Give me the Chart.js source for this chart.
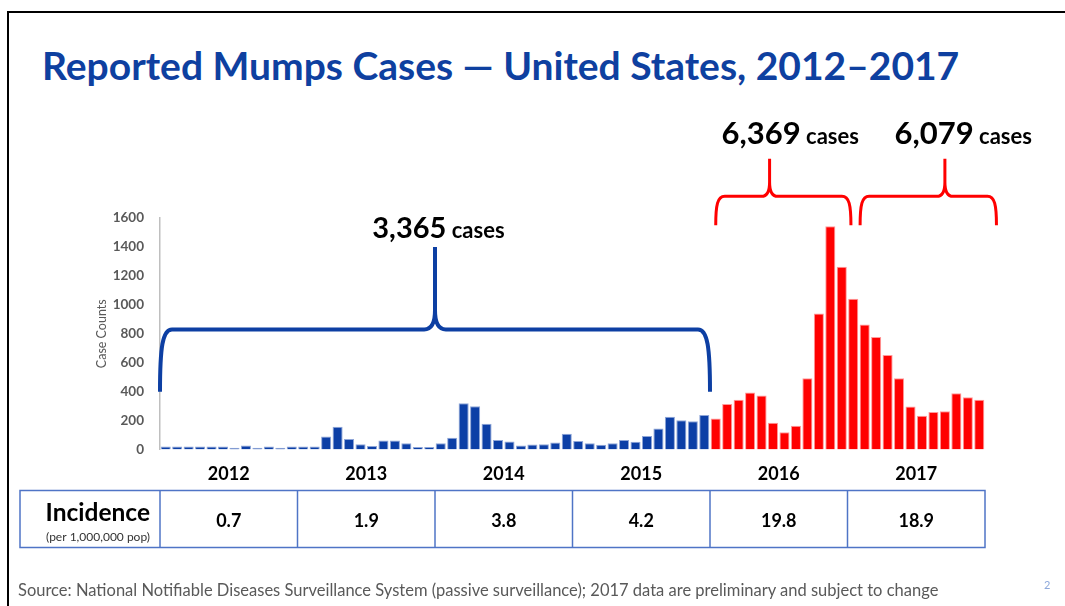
<!DOCTYPE html>
<html>
<head>
<meta charset="utf-8">
<script src="https://cdn.jsdelivr.net/npm/chart.js@4.4.0/dist/chart.umd.min.js"></script>
<style>
    body { margin: 0; background: #fff; }
    #slide { position: relative; width: 1065px; height: 606px; overflow: hidden; font-family: Lato, "Open Sans", sans-serif; }
    #marco { position: absolute; left: 7px; top: 11px; width: 1100px; height: 700px; border: 2px solid #000; }
    #titulo { position: absolute; left: 42px; top: 42px; font-size: 39px; font-weight: bold; color: #0E40A0; white-space: nowrap; }
    #fuente { position: absolute; left: 18px; top: 580px; font-size: 16.5px; color: #595959; white-space: nowrap; }
    #pagina { position: absolute; left: 1044px; top: 578px; font-size: 11px; color: #8EA9DB; }
    canvas { position: absolute; left: 0; top: 0; }
</style>
</head>
<body>
<div id="slide">
    <div id="marco"></div>
    <div id="titulo">Reported Mumps Cases — United States, 2012–2017</div>
    <canvas id="graficoPaperas" width="1065" height="606"></canvas>
    <div id="fuente">Source: National Notifiable Diseases Surveillance System (passive surveillance); 2017 data are preliminary and subject to change</div>
    <div id="pagina">2</div>
</div>
<script>
// datos (casos por mes)
const anios = ["2012", "2013", "2014", "2015", "2016", "2017"];
const casos2012 = [20, 20, 20, 20, 20, 20, 12, 28, 12, 20, 12, 20];
const casos2013 = [20, 20, 90, 157, 72, 37, 25, 62, 62, 44, 18, 18];
const casos2014 = [44, 81, 320, 299, 178, 65, 55, 28, 35, 37, 49, 109];
const casos2015 = [58, 44, 32, 44, 65, 53, 93, 146, 227, 202, 195, 239];
const casos2016 = [215, 315, 343, 394, 373, 185, 120, 165, 493, 940, 1543, 1263];
const casos2017 = [1042, 864, 778, 653, 493, 297, 234, 259, 264, 389, 361, 343];
const incidencia = ["0.7", "1.9", "3.8", "4.2", "19.8", "18.9"];
const totales = ["3,365", "6,369", "6,079"];
const ticksY = [0, 200, 400, 600, 800, 1000, 1200, 1400, 1600];

const AZUL = "#0C3FA6";
const ROJO = "#FF0000";

const meses = [];
anios.forEach(a => { for (let m = 1; m <= 12; m++) meses.push(a + "-" + m); });
const casos = [].concat(casos2012, casos2013, casos2014, casos2015, casos2016, casos2017);

// llaves (en unidades de barra y de casos)
const llaves = [
    { desde: -0.5, hasta: 47.5, pico: 23.5, base: 400, nivel: 830, punta: 1400, color: "#0D3FA3", grosor: 4, esquina: 12, total: 0, etqX: 23.8, etqY: 1464, tamNum: 29, tamTxt: 22 },
    { desde: 48.0, hasta: 59.8, pico: 52.7, base: 1550, nivel: 1750, punta: 2010, color: ROJO, grosor: 3, esquina: 9, total: 1, etqX: 54.5, etqY: 2108, tamNum: 31, tamTxt: 22 },
    { desde: 60.6, hasta: 72.5, pico: 68.0, base: 1550, nivel: 1750, punta: 2010, color: ROJO, grosor: 3, esquina: 9, total: 2, etqX: 69.6, etqY: 2108, tamNum: 31, tamTxt: 22 }
];

const anotaciones = {
    id: "anotaciones",
    afterDraw(chart) {
        const ctx = chart.ctx;
        const x = chart.scales.x;
        const y = chart.scales.y;
        const area = chart.chartArea;

        llaves.forEach(ll => {
            const xi = x.getPixelForValue(ll.desde);
            const xf = x.getPixelForValue(ll.hasta);
            const xp = x.getPixelForValue(ll.pico);
            const yb = y.getPixelForValue(ll.base);
            const yh = y.getPixelForValue(ll.nivel);
            const yp = y.getPixelForValue(ll.punta);
            const r = ll.esquina;
            ctx.save();
            ctx.strokeStyle = ll.color;
            ctx.lineWidth = ll.grosor;
            ctx.lineJoin = "round";
            ctx.beginPath();
            ctx.moveTo(xi, yb);
            ctx.bezierCurveTo(xi, yh + (yb - yh) * 0.3, xi + r * 0.2, yh, xi + r, yh);
            ctx.lineTo(xp - r * 0.9, yh);
            ctx.quadraticCurveTo(xp, yh, xp, yh - r * 1.6);
            ctx.lineTo(xp, yp);
            ctx.moveTo(xp, yh - r * 1.6);
            ctx.quadraticCurveTo(xp, yh, xp + r * 0.9, yh);
            ctx.lineTo(xf - r, yh);
            ctx.bezierCurveTo(xf - r * 0.2, yh, xf, yh + (yb - yh) * 0.3, xf, yb);
            ctx.stroke();

            // texto "N cases"
            const cx = x.getPixelForValue(ll.etqX);
            const by = y.getPixelForValue(ll.etqY);
            ctx.fillStyle = "#000";
            ctx.textBaseline = "alphabetic";
            ctx.textAlign = "left";
            ctx.font = "bold " + ll.tamNum + "px Lato";
            const num = totales[ll.total];
            const wNum = ctx.measureText(num).width;
            ctx.font = "bold " + ll.tamTxt + "px Lato";
            const wTxt = ctx.measureText(" cases").width;
            const x0 = cx - (wNum + wTxt) / 2;
            ctx.font = "bold " + ll.tamNum + "px Lato";
            ctx.fillText(num, x0, by);
            ctx.font = "bold " + ll.tamTxt + "px Lato";
            ctx.fillText(" cases", x0 + wNum, by);
            ctx.restore();
        });

        // tabla de incidencia
        const arriba = area.bottom + 41;
        const abajo = area.bottom + 98;
        const medio = (arriba + abajo) / 2;
        const cols = [20];
        for (let i = 0; i <= anios.length; i++) cols.push(x.getPixelForValue(12 * i - 0.5));
        ctx.save();
        ctx.strokeStyle = "#4F74C6";
        ctx.lineWidth = 1.5;
        ctx.strokeRect(cols[0], arriba, cols[cols.length - 1] - cols[0], abajo - arriba);
        for (let i = 1; i < cols.length - 1; i++) {
            ctx.beginPath();
            ctx.moveTo(cols[i], arriba);
            ctx.lineTo(cols[i], abajo);
            ctx.stroke();
        }
        ctx.fillStyle = "#000";
        ctx.textAlign = "right";
        ctx.textBaseline = "middle";
        ctx.font = "bold 24.5px Lato";
        ctx.fillText("Incidence", cols[1] - 10, medio - 6);
        ctx.font = "12px Lato";
        ctx.fillStyle = "#333";
        ctx.fillText("(per 1,000,000 pop)", cols[1] - 10, medio + 18);
        ctx.textAlign = "center";
        ctx.fillStyle = "#000";
        ctx.font = "bold 18px Lato";
        incidencia.forEach((v, i) => {
            ctx.fillText(v, (cols[i + 1] + cols[i + 2]) / 2, medio + 2);
        });
        ctx.restore();
    }
};

const ctx = document.getElementById("graficoPaperas").getContext("2d");
new Chart(ctx, {
    type: "bar",
    data: {
        labels: meses,
        datasets: [{
            label: "Case Counts",
            data: casos,
            xAxisID: "x",
            yAxisID: "y",
            backgroundColor: c => c.dataIndex >= 48 ? ROJO : AZUL,
            borderColor: c => c.dataIndex >= 48 ? "#FF9A9A" : "#8FA6D8",
            borderWidth: 1,
            barPercentage: 0.88,
            categoryPercentage: 1
        }]
    },
    options: {
        responsive: false,
        animation: false,
        layout: { padding: { left: 94, right: 80, top: 218, bottom: 116.5 } },
        plugins: {
            legend: { display: false },
            tooltip: { enabled: false }
        },
        scales: {
            x: {
                display: false,
                offset: true
            },
            anio: {
                type: "category",
                position: "bottom",
                labels: anios,
                offset: true,
                grid: { display: false, drawTicks: false },
                border: { display: false },
                ticks: {
                    color: "#000",
                    padding: 14,
                    font: { family: "Lato", size: 18, weight: "bold" }
                },
                afterFit: s => { s.height = 40; }
            },
            y: {
                min: 0,
                max: 1600,
                afterBuildTicks: s => { s.ticks = ticksY.map(v => ({ value: v })); },
                grid: { display: false, drawTicks: false },
                border: { display: true, color: "#BFBFBF", width: 1.5 },
                ticks: {
                    color: "#595959",
                    padding: 16,
                    callback: v => String(v),
                    font: { family: "Lato", size: 13.5, weight: "bold" }
                },
                title: {
                    display: true,
                    text: "Case Counts",
                    color: "#595959",
                    padding: 0,
                    font: { family: "Lato", size: 12.5 }
                },
                afterFit: s => { s.width = 66; }
            }
        }
    },
    plugins: [anotaciones]
});
</script>
</body>
</html>
